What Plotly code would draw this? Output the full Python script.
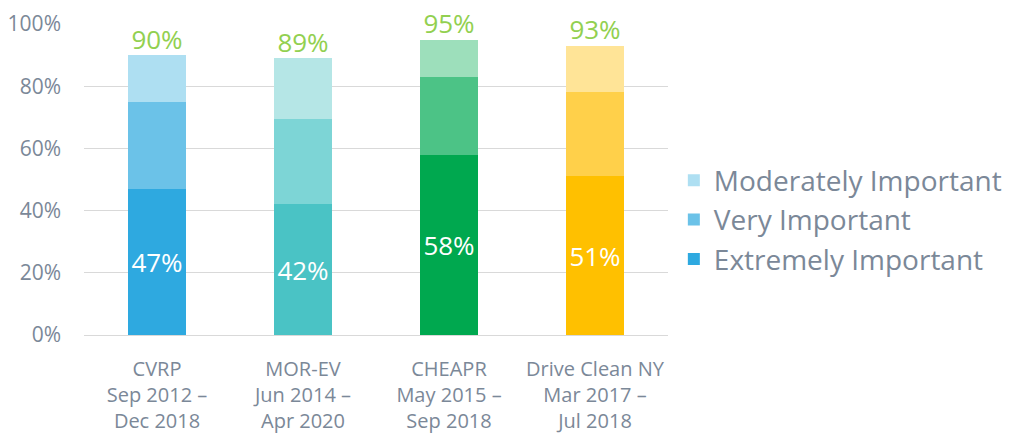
import plotly.graph_objects as go

categories = ["CVRP<br>Sep 2012 –<br>Dec 2018",
              "MOR-EV<br>Jun 2014 –<br>Apr 2020",
              "CHEAPR<br>May 2015 –<br>Sep 2018",
              "Drive Clean NY<br>Mar 2017 –<br>Jul 2018"]
extremely = [47, 42, 58, 51]
very = [28, 27.5, 25, 27]
moderately = [15, 19.5, 12, 15]
totals = [e + v + m for e, v, m in zip(extremely, very, moderately)]

extreme_colors = ["#2EA9E0", "#4AC3C5", "#00A84F", "#FFC000"]
very_colors = ["#6BC2E8", "#7DD5D6", "#4CC386", "#FFD04A"]
moderate_colors = ["#AEDFF2", "#B5E6E6", "#9DDFBB", "#FFE497"]

FONT = "Open Sans"
GRAY = "#7B8898"
GREEN = "#92D050"

fig = go.Figure()
fig.add_trace(go.Bar(
    x=categories, y=extremely, name="Extremely Important",
    marker=dict(color=extreme_colors, line=dict(width=0)),
    text=[f"{v:.0f}%" for v in extremely], textposition="inside",
    insidetextanchor="middle", textangle=0,
    textfont=dict(family=FONT, size=26, color="white"),
    legendgroup="a", hoverinfo="skip"))
fig.add_trace(go.Bar(
    x=categories, y=very, name="Very Important",
    marker=dict(color=very_colors, line=dict(width=0)),
    legendgroup="b", hoverinfo="skip"))
fig.add_trace(go.Bar(
    x=categories, y=moderately, name="Moderately Important",
    marker=dict(color=moderate_colors, line=dict(width=0)),
    legendgroup="c", hoverinfo="skip"))
fig.add_trace(go.Scatter(
    x=categories, y=totals, mode="text",
    text=[f"{v:.0f}%" for v in totals], textposition="top center",
    textfont=dict(family=FONT, size=26, color=GREEN),
    showlegend=False, hoverinfo="skip", cliponaxis=False))

fig.update_layout(
    width=1003, height=425,
    margin=dict(l=76, r=343, t=16, b=98, autoexpand=False),
    barmode="stack", bargap=0.6,
    plot_bgcolor="white", paper_bgcolor="white",
    font=dict(family=FONT, color=GRAY, size=20),
    showlegend=True,
    legend=dict(x=1.010, y=0.37, xanchor="left", yanchor="middle",
                traceorder="reversed", tracegroupgap=14,
                font=dict(family=FONT, size=28, color=GRAY),
                bgcolor="rgba(0,0,0,0)"),
    xaxis=dict(showgrid=False, showline=False, ticks="", automargin=False,
               tickfont=dict(family=FONT, size=20, color=GRAY),
               ticklabelstandoff=20),
    yaxis=dict(range=[0, 100], dtick=20, ticksuffix="%", automargin=False,
               showgrid=True, gridcolor="#D9D9D9", gridwidth=1,
               zeroline=True, zerolinecolor="#D9D9D9", zerolinewidth=1,
               showline=False, ticks="",
               tickfont=dict(family=FONT, size=21, color=GRAY),
               ticklabelstandoff=22),
)

fig.write_html("out.html")
